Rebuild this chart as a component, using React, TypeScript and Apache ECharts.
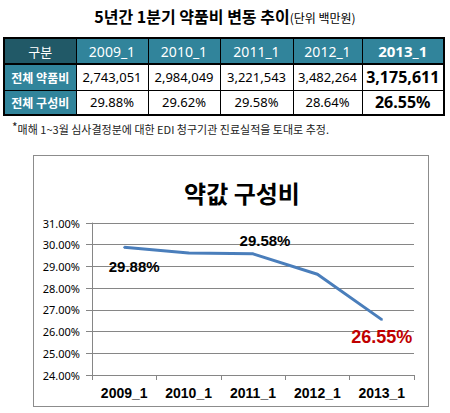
import { useEffect, useRef } from 'react';
import * as echarts from 'echarts';

const categories = ['2009_1', '2010_1', '2011_1', '2012_1', '2013_1'];
const drugCosts = [2743051, 2984049, 3221543, 3482264, 3175611];
const shares = [29.88, 29.62, 29.58, 28.64, 26.55];
const rowLabels = ['전체 약품비', '전체 구성비'];
const labelledPoints = [0, 2, 4];

const KR = "'Noto Sans CJK KR', sans-serif";
const NUM = "'Noto Sans', 'Noto Sans CJK KR', sans-serif";
const BOLD_LATIN = "'Liberation Sans', Arial, sans-serif";
const TEAL = '#31849b';
const TEAL_DARK = '#215967';
const colWidths = [72, 72, 72, 73, 69, 82];

function ShareChart() {
  const ref = useRef<HTMLDivElement>(null);

  useEffect(() => {
    if (!ref.current) return;
    const chart = echarts.init(ref.current, null, { renderer: 'svg' });

    // per-point label placement, only some points carry a label
    const labelStyle: Record<number, any> = {
      0: { offset: [10, 19] },
      2: { offset: [12, -13] },
      4: { offset: [0, 17], color: '#c00000', fontSize: 18 },
    };

    const seriesData = shares.map((v, i) => ({
      value: v,
      label: labelledPoints.includes(i)
        ? { show: true, ...labelStyle[i] }
        : { show: false },
    }));

    chart.setOption({
      animation: false,
      title: {
        text: '약값 구성비',
        left: 203,
        top: 19,
        textAlign: 'center',
        textStyle: { fontFamily: KR, fontSize: 24, fontWeight: 'bold', color: '#000' },
      },
      grid: { left: 58, right: 14, top: 67, bottom: 31 },
      xAxis: {
        type: 'category',
        data: categories,
        boundaryGap: true,
        axisLine: { lineStyle: { color: '#868686', width: 1 } },
        axisTick: { show: true, length: 5, lineStyle: { color: '#868686' } },
        axisLabel: {
          interval: 0,
          margin: 11,
          color: '#000',
          fontFamily: BOLD_LATIN,
          fontWeight: 'bold',
          fontSize: 14,
        },
      },
      yAxis: {
        type: 'value',
        min: 24,
        max: 31,
        interval: 1,
        axisLine: { show: true, lineStyle: { color: '#868686', width: 1 } },
        axisTick: { show: true, length: 6, lineStyle: { color: '#868686' } },
        splitLine: { lineStyle: { color: '#868686', width: 1 } },
        axisLabel: {
          margin: 12,
          color: '#000',
          fontFamily: "'Noto Sans', sans-serif",
          fontSize: 11,
          formatter: (v: number) => `${v.toFixed(2)}%`,
        },
      },
      series: [
        {
          type: 'line',
          data: seriesData,
          symbol: 'circle',
          symbolSize: 2,
          itemStyle: { color: '#4a7ebb' },
          lineStyle: { color: '#4a7ebb', width: 3 },
          label: {
            position: 'inside',
            fontFamily: BOLD_LATIN,
            fontWeight: 'bold',
            fontSize: 15,
            color: '#000',
            formatter: (p: any) => `${p.value.toFixed(2)}%`,
          },
        },
      ],
    });

    return () => chart.dispose();
  }, []);

  return <div ref={ref} style={{ width: 394, height: 250 }} />;
}

const cell: React.CSSProperties = {
  border: '1px solid #000',
  padding: 0,
  textAlign: 'center',
  fontFamily: NUM,
  whiteSpace: 'nowrap',
  overflow: 'hidden',
};

export default function App() {
  const last = categories.length - 1;
  return (
    <div
      style={{
        position: 'absolute',
        left: 0,
        top: 0,
        width: 450,
        height: 413,
        background: '#fff',
        overflow: 'hidden',
      }}
    >
      <div
        style={{
          position: 'absolute',
          left: 0,
          top: 5,
          width: 450,
          textAlign: 'center',
          fontFamily: KR,
          color: '#000',
          lineHeight: '22px',
        }}
      >
        <span style={{ fontSize: 16, fontWeight: 'bold' }}>5년간 1분기 약품비 변동 추이</span>
        <span style={{ fontSize: 12 }}>(단위 백만원)</span>
      </div>

      <table
        style={{
          position: 'absolute',
          left: 3,
          top: 37,
          width: 441,
          height: 77,
          borderCollapse: 'collapse',
          border: '2px solid #000',
          tableLayout: 'fixed',
        }}
      >
        <colgroup>
          {colWidths.map((w, i) => (
            <col key={i} style={{ width: w }} />
          ))}
        </colgroup>
        <tbody>
          <tr style={{ height: 26 }}>
            <td
              style={{
                ...cell,
                fontFamily: KR,
                background: TEAL_DARK,
                color: '#fff',
                fontSize: 13,
                borderBottom: '2px solid #000',
              }}
            >
              구분
            </td>
            {categories.map((c, i) => (
              <td
                key={c}
                style={{
                  ...cell,
                  background: TEAL,
                  color: '#fff',
                  fontSize: i === last ? 15 : 14,
                  fontWeight: i === last ? 'bold' : 'normal',
                  borderBottom: '2px solid #000',
                }}
              >
                {c}
              </td>
            ))}
          </tr>
          <tr style={{ height: 26 }}>
            <td style={{ ...cell, fontFamily: KR, background: TEAL, color: '#fff', fontSize: 12, fontWeight: 'bold' }}>
              {rowLabels[0]}
            </td>
            {drugCosts.map((v, i) => (
              <td
                key={i}
                style={{
                  ...cell,
                  fontSize: i === last ? 16 : 13,
                  fontWeight: i === last ? 'bold' : 'normal',
                }}
              >
                {v.toLocaleString('en-US')}
              </td>
            ))}
          </tr>
          <tr style={{ height: 25 }}>
            <td style={{ ...cell, fontFamily: KR, background: TEAL, color: '#fff', fontSize: 12, fontWeight: 'bold' }}>
              {rowLabels[1]}
            </td>
            {shares.map((v, i) => (
              <td
                key={i}
                style={{
                  ...cell,
                  fontSize: i === last ? 16 : 13,
                  fontWeight: i === last ? 'bold' : 'normal',
                }}
              >
                {v.toFixed(2)}%
              </td>
            ))}
          </tr>
        </tbody>
      </table>

      <div
        style={{
          position: 'absolute',
          left: 12,
          top: 119,
          fontFamily: KR,
          fontSize: 11,
          color: '#222',
          whiteSpace: 'nowrap',
          lineHeight: '16px',
        }}
      >
        <span style={{ fontSize: 12, verticalAlign: '2px' }}>*</span>매해 1~3월 심사결정분에 대한 EDI 청구기관 진료실적을 토대로 추정.
      </div>

      <div
        style={{
          position: 'absolute',
          left: 33,
          top: 155,
          width: 396,
          height: 252,
          boxSizing: 'border-box',
          border: '1px solid #8c8c8c',
          background: '#fff',
        }}
      >
        <ShareChart />
      </div>
    </div>
  );
}
